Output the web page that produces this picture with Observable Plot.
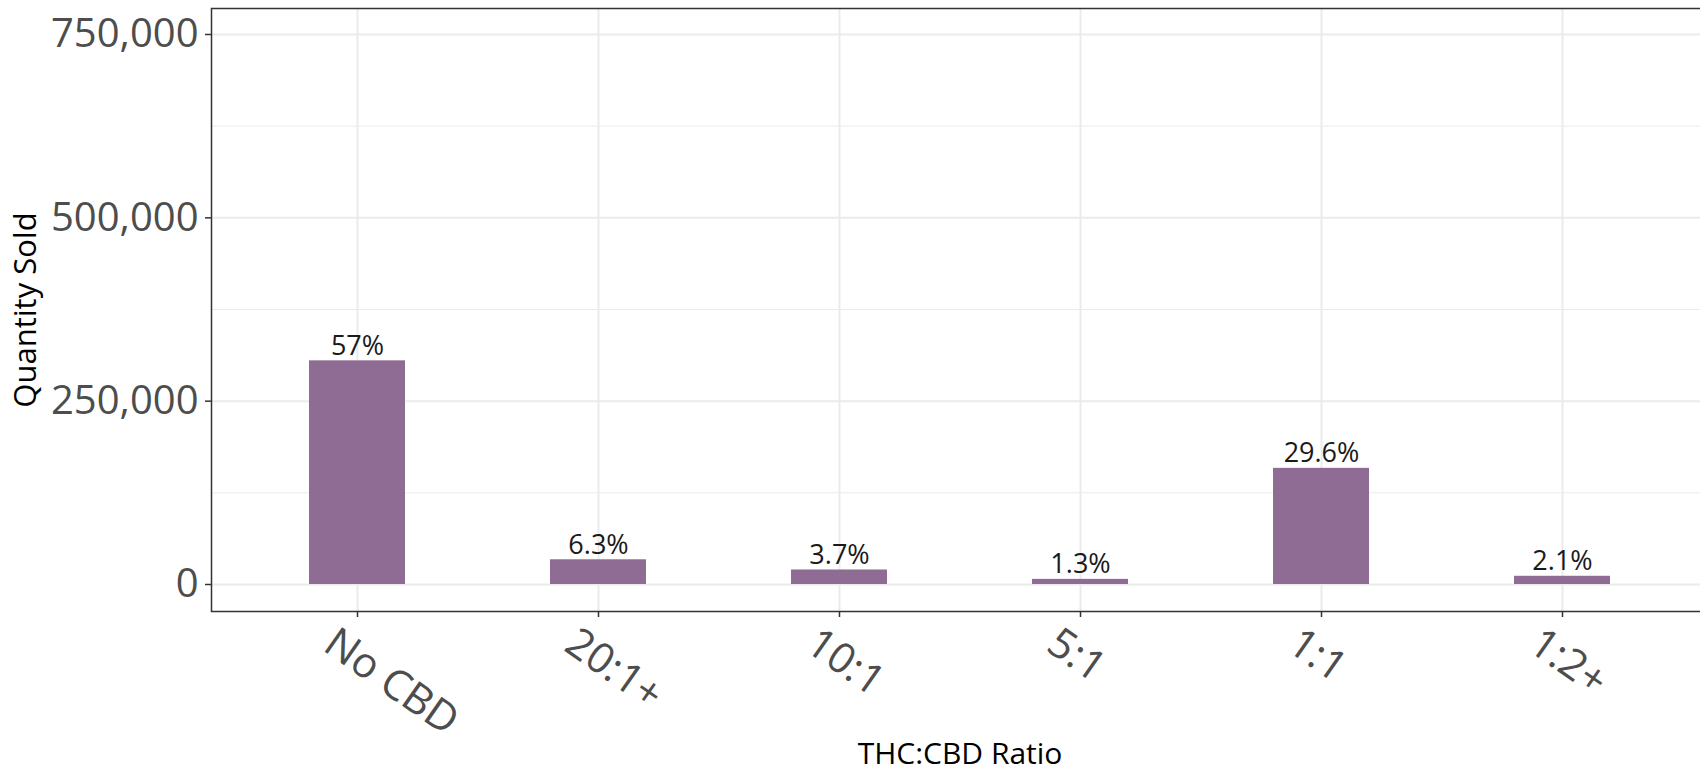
<!DOCTYPE html>
<html>
<head>
<meta charset="utf-8">
<script src="https://cdn.jsdelivr.net/npm/d3@7"></script>
<script src="https://cdn.jsdelivr.net/npm/@observablehq/plot@0.6"></script>
<style>
  html, body { margin: 0; padding: 0; background: white; overflow: hidden; }
  #chart svg { display: block; }
</style>
</head>
<body>
<div id="chart"></div>
<script>
const categories = ["No CBD", "20:1+", "10:1", "5:1", "1:1", "1:2+"];
const quantities = [305000, 33700, 19800, 7000, 158400, 11200];
const shareLabels = ["57%", "6.3%", "3.7%", "1.3%", "29.6%", "2.1%"];
const yTicks = [0, 250000, 500000, 750000];
const yMinorTicks = [125000, 375000, 625000];
const xTitle = "THC:CBD Ratio";
const yTitle = "Quantity Sold";

const data = categories.map((c, i) => ({cat: c, q: quantities[i], label: shareLabels[i]}));

const chart = Plot.plot({
  width: 1700,
  height: 771,
  marginLeft: 211,
  marginRight: -8,
  marginTop: 8,
  marginBottom: 160,
  style: {fontFamily: "'Open Sans', sans-serif", background: "white", overflow: "visible"},
  x: {domain: categories, paddingInner: 0.6, paddingOuter: 0.4, axis: null},
  y: {domain: [-36818, 785454], axis: null},
  marks: [
    Plot.ruleY(yMinorTicks, {stroke: "#ebebeb", strokeWidth: 1}),
    Plot.ruleY(yTicks, {stroke: "#ebebeb", strokeWidth: 2}),
    Plot.ruleX(categories, {x: d => d, stroke: "#ebebeb", strokeWidth: 2}),
    Plot.barY(data, {x: "cat", y: "q", fill: "#8f6c94"}),
    Plot.text(data, {x: "cat", y: "q", text: "label", lineAnchor: "bottom", dy: -6, fontSize: 27, fill: "#1a1a1a"}),
    Plot.frame({stroke: "#333333", strokeWidth: 1.5}),
    Plot.axisY({ticks: yTicks, tickFormat: d3.format(","), fontSize: 40, tickSize: 6, tickPadding: 7, stroke: "#333333", strokeWidth: 1.5, fill: "#4d4d4d", label: null}),
    Plot.axisX({ticks: categories, tickSize: 6, tickFormat: () => "", stroke: "#333333", strokeWidth: 1.5, label: null}),
    Plot.text(categories, {x: d => d, text: d => d, frameAnchor: "bottom", rotate: 35, textAnchor: "start", lineAnchor: "bottom", dx: -36, dy: 38, fontSize: 42, fill: "#4d4d4d"}),
    Plot.text([xTitle], {text: d => d, frameAnchor: "bottom", dy: 143, textAnchor: "middle", lineAnchor: "middle", fontSize: 30, fill: "#000000"}),
    Plot.text([yTitle], {text: d => d, frameAnchor: "left", dx: -185, rotate: -90, textAnchor: "middle", lineAnchor: "middle", fontSize: 31, fill: "#000000"})
  ]
});
document.getElementById("chart").appendChild(chart);
</script>
</body>
</html>
